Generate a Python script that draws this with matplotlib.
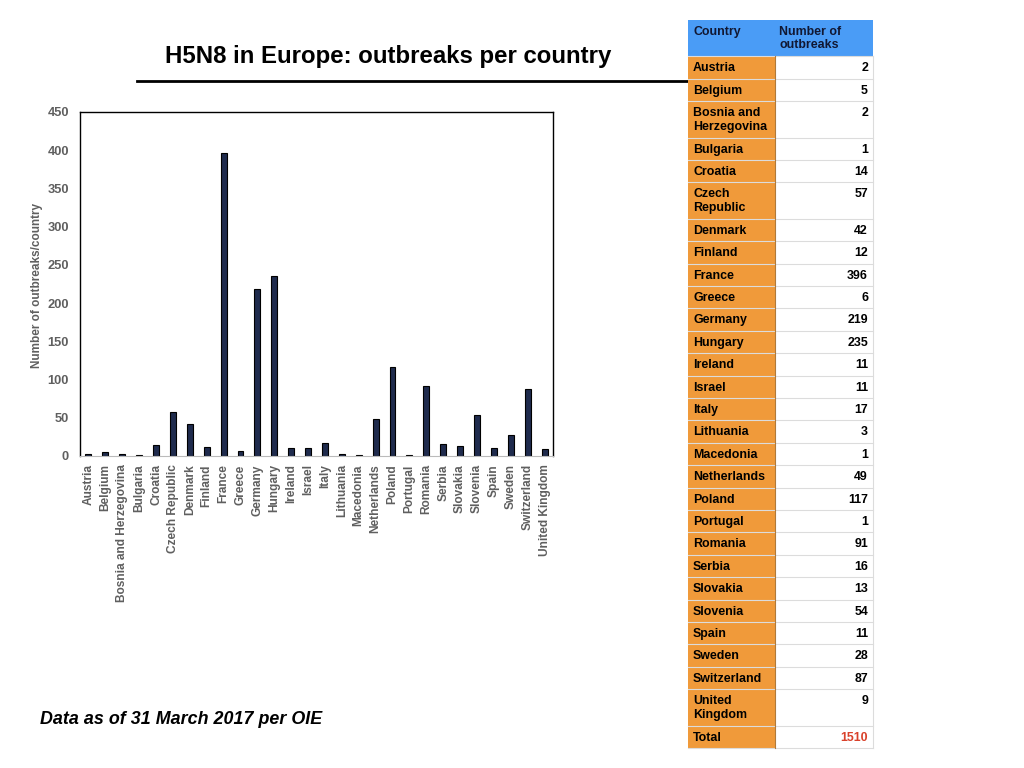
import numpy as np
import matplotlib
matplotlib.use("Agg")
import matplotlib.pyplot as plt
from matplotlib.patches import Rectangle

plt.rcParams['font.family'] = ['Liberation Sans', 'DejaVu Sans']
plt.rcParams['font.weight'] = 'bold'

# ------------------------------
# Data
# ------------------------------
countries = ["Austria", "Belgium", "Bosnia and Herzegovina", "Bulgaria", "Croatia",
             "Czech Republic", "Denmark", "Finland", "France", "Greece", "Germany",
             "Hungary", "Ireland", "Israel", "Italy", "Lithuania", "Macedonia",
             "Netherlands", "Poland", "Portugal", "Romania", "Serbia", "Slovakia",
             "Slovenia", "Spain", "Sweden", "Switzerland", "United Kingdom"]
outbreaks = [2, 5, 2, 1, 14, 57, 42, 12, 396, 6, 219, 235, 11, 11, 17, 3, 1,
             49, 117, 1, 91, 16, 13, 54, 11, 28, 87, 9]
total = 1510
y_ticks = [0, 50, 100, 150, 200, 250, 300, 350, 400, 450]

# names that wrap onto two lines in the table
wrapped = {"Bosnia and Herzegovina": "Bosnia and\nHerzegovina",
           "Czech Republic": "Czech\nRepublic",
           "United Kingdom": "United\nKingdom"}

GREY = "#5f5f5f"
NAVY = "#1f2b4d"
ORANGE = "#f09a3a"
BLUE = "#4a9cf6"

fig = plt.figure(figsize=(10.24, 7.68), dpi=100)

# ------------------------------
# Bar chart
# ------------------------------
ax = fig.add_axes([80/1024, 1-456/768, 473/1024, 344/768])
x = np.arange(len(countries))
ax.bar(x, outbreaks, width=0.35, color=NAVY, edgecolor="black", linewidth=0.8)
ax.set_xlim(-0.5, len(countries) - 0.5)
ax.set_ylim(0, 450)
ax.set_yticks(y_ticks)
ax.set_xticks(x)
ax.set_xticklabels(countries, rotation=90, fontsize=8.6, color=GREY, fontweight='bold')
ax.tick_params(axis='y', labelsize=9.3, labelcolor=GREY, length=0, pad=8)
ax.tick_params(axis='x', length=0, pad=6)
for lab in ax.get_yticklabels():
    lab.set_fontweight('bold')
ax.spines['bottom'].set_color("#bbbbbb")
for s in ['top', 'right', 'left']:
    ax.spines[s].set_color("black")
    ax.spines[s].set_linewidth(1.0)
ax.set_ylabel("Number of outbreaks/country", fontsize=8.5, color=GREY,
              fontweight='bold')
ax.yaxis.set_label_coords(-0.078, 0.495)

# ------------------------------
# Overlay in pixel coordinates: title, footer, table
# ------------------------------
ov = fig.add_axes([0, 0, 1, 1], zorder=-1)
ov.set_xlim(0, 1024)
ov.set_ylim(768, 0)
ov.axis('off')

ov.text(388, 56, "H5N8 in Europe: outbreaks per country", fontsize=17.3,
        fontweight='bold', ha='center', va='center', color='black')
ov.plot([137, 688], [81, 81], color='black', linewidth=2)
ov.text(40, 720, "Data as of 31 March 2017 per OIE", fontsize=12.9,
        fontweight='bold', fontstyle='italic', ha='left', va='center')

ov2 = fig.add_axes([0, 0, 1, 1], zorder=5)
ov2.set_xlim(0, 1024)
ov2.set_ylim(768, 0)
ov2.axis('off')

x0, x1, x2 = 688, 775, 873
single, double = 22.4, 36.4
fs = 8.9

# header
top = 20
ov2.add_patch(Rectangle((x0, top), x2 - x0, double, facecolor=BLUE, edgecolor='none'))
ov2.text(x0 + 5, top + 6, "Country", fontsize=fs, va='top', ha='left', color="#111833")
ov2.text(x1 + 4, top + 6, "Number of\noutbreaks", fontsize=fs, va='top', ha='left',
         color="#111833", linespacing=1.15)
top += double

rows = [(wrapped.get(c, c), str(v), 'black') for c, v in zip(countries, outbreaks)]
rows.append(("Total", str(total), "#d9412b"))
for name, val, vcol in rows:
    h = double if "\n" in name else single
    ov2.add_patch(Rectangle((x0, top), x1 - x0, h, facecolor=ORANGE, edgecolor='none'))
    ov2.add_patch(Rectangle((x1, top), x2 - x1, h, facecolor='white', edgecolor='none'))
    ov2.plot([x0, x2], [top, top], color="#dcdcdc", linewidth=0.8)
    ov2.text(x0 + 5, top + 6, name, fontsize=fs, va='top', ha='left', color='black',
             linespacing=1.2)
    ov2.text(x2 - 5, top + 6, val, fontsize=fs, va='top', ha='right', color=vcol)
    top += h
ov2.plot([x0, x2], [top, top], color="#dcdcdc", linewidth=0.8)
ov2.plot([x1, x1], [20 + double, top], color="#b07a3a", linewidth=0.8)
ov2.plot([x2, x2], [20 + double, top], color="#dcdcdc", linewidth=0.8)

fig.savefig("out.png", dpi=100)
